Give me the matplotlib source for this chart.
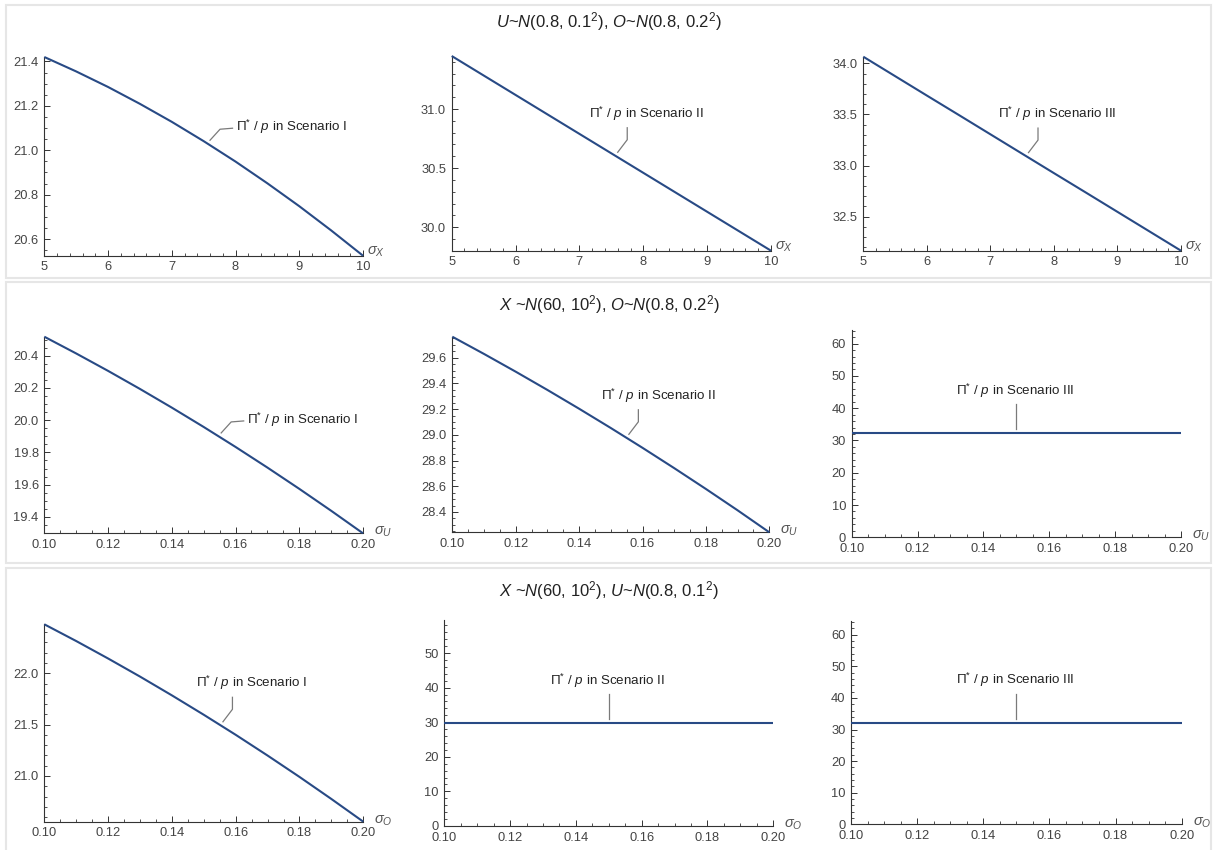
import numpy as np
import matplotlib
matplotlib.use("Agg")
import matplotlib.pyplot as plt
from matplotlib.ticker import MultipleLocator, FormatStrFormatter
from matplotlib.lines import Line2D
from matplotlib.patches import Rectangle

plt.rcParams.update({
    "font.family": ["Liberation Sans", "DejaVu Sans"],
    "mathtext.fontset": "custom",
    "mathtext.rm": "Liberation Sans",
    "mathtext.it": "Liberation Sans:italic",
    "mathtext.bf": "Liberation Sans:bold",
})

# ---------------- data ----------------
row_titles = [
    r"$U$~$N$(0.8, 0.1$^2$), $O$~$N$(0.8, 0.2$^2$)",
    r"$X$ ~$N$(60, 10$^2$), $O$~$N$(0.8, 0.2$^2$)",
    r"$X$ ~$N$(60, 10$^2$), $U$~$N$(0.8, 0.1$^2$)",
]
x_labels = [r"$σ_X$", r"$σ_U$", r"$σ_O$"]
scenario_names = ["I", "II", "III"]

sigma_x = [5.0, 5.5, 6.0, 6.5, 7.0, 7.5, 8.0, 8.5, 9.0, 9.5, 10.0]
row1_s1 = [21.420, 21.355, 21.285, 21.209, 21.128, 21.041, 20.949, 20.851,
           20.748, 20.639, 20.525]
row1_s2 = [31.450, 31.285, 31.120, 30.955, 30.790, 30.625, 30.460, 30.295,
           30.130, 29.965, 29.800]
row1_s3 = [34.065, 33.875, 33.685, 33.496, 33.306, 33.116, 32.926, 32.737,
           32.547, 32.357, 32.167]

sigma_u = [0.10, 0.11, 0.12, 0.13, 0.14, 0.15, 0.16, 0.17, 0.18, 0.19, 0.20]
row2_s1 = [20.518, 20.414, 20.306, 20.194, 20.078, 19.958, 19.834, 19.706,
           19.574, 19.438, 19.298]
row2_s2 = [29.763, 29.629, 29.491, 29.349, 29.203, 29.053, 28.899, 28.741,
           28.579, 28.413, 28.242]
row2_s3 = [32.17] * 11

sigma_o = [0.10, 0.11, 0.12, 0.13, 0.14, 0.15, 0.16, 0.17, 0.18, 0.19, 0.20]
row3_s1 = [22.477, 22.314, 22.144, 21.968, 21.785, 21.596, 21.401, 21.199,
           20.991, 20.776, 20.555]
row3_s2 = [29.77] * 11
row3_s3 = [32.17] * 11

# ---------------- layout ----------------
W, H = 1217, 850
fig = plt.figure(figsize=(W / 100, H / 100), dpi=100)

LINE_C = "#284a85"
AX_C = "#333333"
TICK_C = "#444444"
LEAD_C = "#7a7a7a"

# panel frames (pixel, top/bottom)
for (t, b) in [(5, 278), (282, 563), (568, 852)]:
    fig.add_artist(Rectangle((6 / W, 1 - b / H), (1211 - 6) / W, (b - t) / H,
                             transform=fig.transFigure, fill=False,
                             ec="#e6e6e6", lw=1.5))

title_y = [22, 305, 591]
for ty, s in zip(title_y, row_titles):
    fig.text(609 / W, 1 - ty / H, s, ha="center", va="center",
             fontsize=12, color="#222222")

# axes boxes in pixels: left, right, top, bottom
boxes = [
    [(44.3, 363, 57, 255.7), (451.7, 771, 56, 250.7), (863.3, 1181, 56.7, 250.7)],
    [(44.3, 363, 336.7, 533.3), (452.3, 769.3, 336.7, 532.3), (851.7, 1181, 329.6, 537.3)],
    [(44.3, 363.3, 624.3, 821.7), (444.3, 773.3, 620, 826), (851, 1181.7, 621, 824.3)],
]

rows = [
    (sigma_x, [row1_s1, row1_s2, row1_s3]),
    (sigma_u, [row2_s1, row2_s2, row2_s3]),
    (sigma_o, [row3_s1, row3_s2, row3_s3]),
]

# tick steps (major, minor) for y per panel
ysteps = [
    [(0.2, 0.05), (0.5, 0.1), (0.5, 0.1)],
    [(0.2, 0.05), (0.2, 0.05), (10, 2)],
    [(0.5, 0.1), (10, 2), (10, 2)],
]
xsteps = [(1, 0.2, "%d"), (0.02, 0.005, "%.2f"), (0.02, 0.005, "%.2f")]
xlab_off = [(3, 3), (8, 1), (8, 1)]

# callout: (anchor x, kind)
callouts = [
    [(7.6, "right"), (7.6, "up"), (7.6, "up")],
    [(0.1555, "right"), (0.1557, "up"), (0.15, "vert")],
    [(0.156, "up"), (0.15, "vert"), (0.15, "vert")],
]


def add_ax(l, r, t, b):
    return fig.add_axes([l / W, 1 - b / H, (r - l) / W, (b - t) / H])


for i, (xs, series) in enumerate(rows):
    for j, ys in enumerate(series):
        l, r, t, b = boxes[i][j]
        ax = add_ax(l, r, t, b)
        ax.patch.set_alpha(0)
        ax.plot(xs, ys, color=LINE_C, lw=1.5, clip_on=False, zorder=3,
                solid_capstyle="butt", solid_joinstyle="round")
        ax.set_xlim(xs[0], xs[-1])
        if max(ys) - min(ys) < 1e-9:
            ax.set_ylim(0, 2 * ys[0])
            yfmt = "%d"
        else:
            ax.set_ylim(min(ys), max(ys))
            yfmt = "%.1f"
        for s in ["top", "right"]:
            ax.spines[s].set_visible(False)
        for s in ["left", "bottom"]:
            ax.spines[s].set_color(AX_C)
            ax.spines[s].set_linewidth(0.8)
        mj, mn = ysteps[i][j]
        ax.yaxis.set_major_locator(MultipleLocator(mj))
        ax.yaxis.set_minor_locator(MultipleLocator(mn))
        ax.yaxis.set_major_formatter(FormatStrFormatter(yfmt))
        xmj, xmn, xfmt = xsteps[i]
        ax.xaxis.set_major_locator(MultipleLocator(xmj))
        ax.xaxis.set_minor_locator(MultipleLocator(xmn))
        ax.xaxis.set_major_formatter(FormatStrFormatter(xfmt))
        ax.tick_params(which="major", direction="in", length=4, width=0.7,
                       color=AX_C, labelsize=9.3, labelcolor=TICK_C, pad=4)
        ax.tick_params(which="minor", direction="in", length=2, width=0.6,
                       color=AX_C)
        ax.tick_params(axis="y", which="both", right=False)
        ax.tick_params(axis="x", which="both", top=False)
        ax.annotate(x_labels[i], xy=(1, 0), xycoords="axes fraction",
                    xytext=xlab_off[i], textcoords="offset points",
                    ha="left", va="center", fontsize=10.5, color="#555555",
                    annotation_clip=False)

        # callout
        xa, kind = callouts[i][j]
        ya = float(np.interp(xa, xs, ys))
        px, py = ax.transData.transform((xa, ya))
        gap = 4 if kind == "vert" else 5
        tx, ty = px, py + gap  # display coords, y up
        if kind == "right":
            pts = [(0, 0), (10, 11), (22.5, 12)]
            txt_off, ha = (26, 13.5), "left"
        elif kind == "up":
            pts = [(0, 0), (9.5, 12.5), (9.5, 24.5)]
            txt_off, ha = (29, 38.5), "center"
        else:
            pts = [(0, 0), (0, 25)]
            txt_off, ha = (-1, 38.5), "center"
        lx = [(tx + dx) / W for dx, dy in pts]
        ly = [(ty + dy) / H for dx, dy in pts]
        fig.add_artist(Line2D(lx, ly, transform=fig.transFigure,
                              color=LEAD_C, lw=0.9))
        label = r"$\mathrm{Π}^{*}$ / $p$ in Scenario " + scenario_names[j]
        fig.text((tx + txt_off[0]) / W, (ty + txt_off[1]) / H, label,
                 ha=ha, va="center", fontsize=9.6, color="#222222")

fig.savefig("out.png", dpi=100)
